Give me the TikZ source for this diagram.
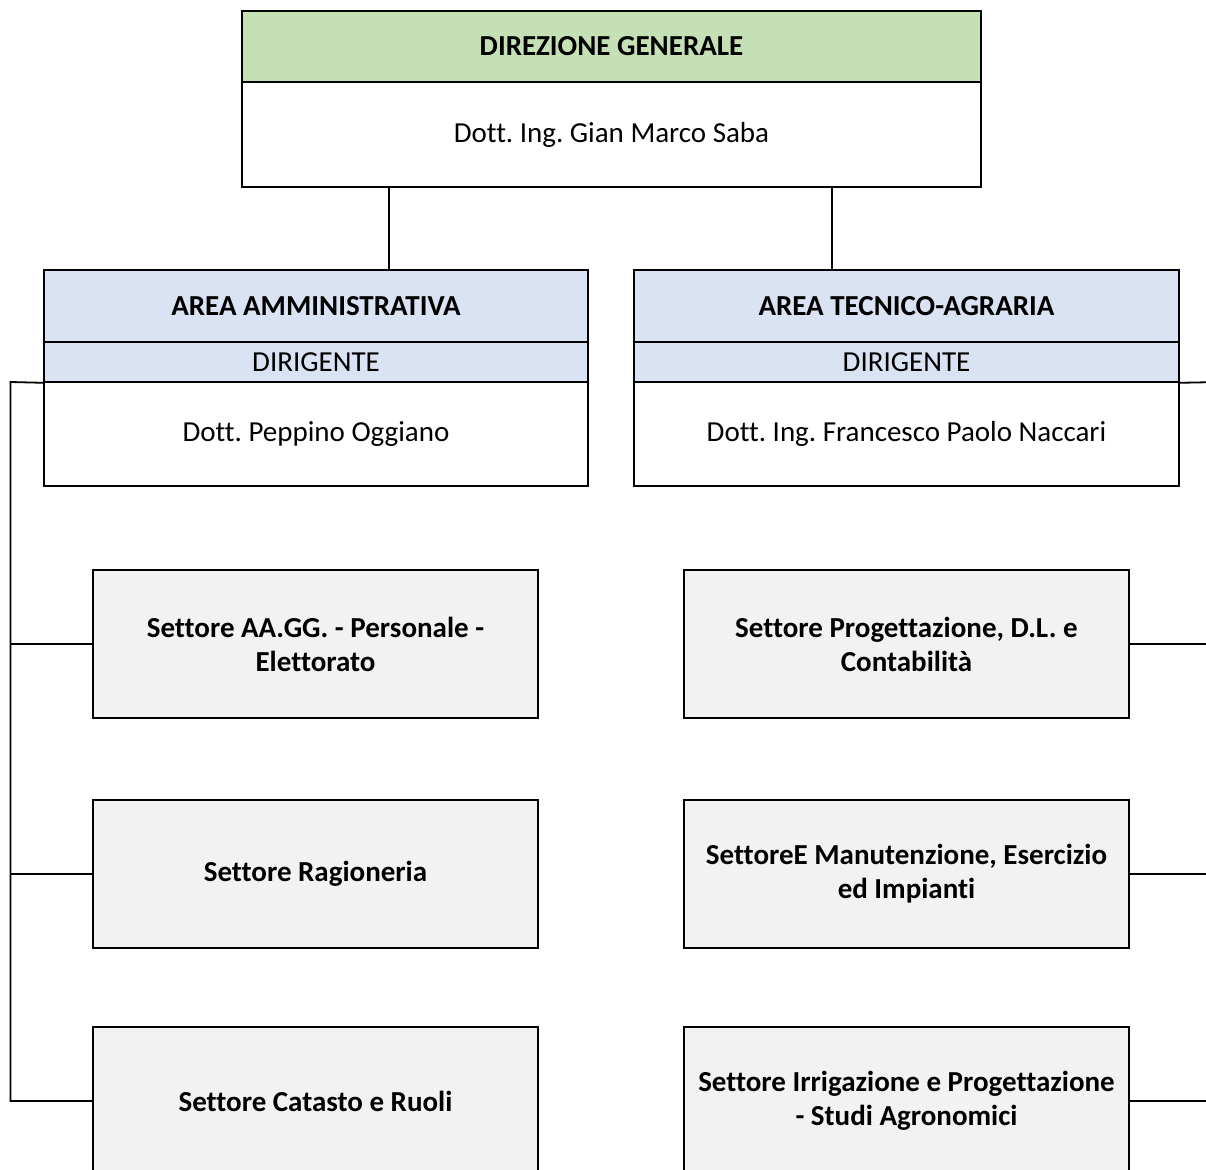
\documentclass[tikz,border=0pt]{standalone}
\usepackage{fontspec}
\setmainfont[Ligatures=NoCommon]{Carlito}
\begin{document}
\frenchspacing
\begin{tikzpicture}[x=1pt,y=-1pt,
  box/.style={draw=black,line width=1.6pt,inner sep=0pt,anchor=center,align=center,font=\fontsize{29}{34}\selectfont},
  topbox/.style={box,line width=2pt},
  sector/.style={box,fill=grayfill,minimum width=445pt,minimum height=148pt,font=\fontsize{29}{34}\selectfont\bfseries},
  link/.style={draw=black,line width=1.8pt}]
\definecolor{greenhd}{HTML}{C5E0B4}
\definecolor{bluefill}{HTML}{DAE3F3}
\definecolor{grayfill}{HTML}{F2F2F2}
\useasboundingbox (0,0) rectangle (1206,1169);
\clip (0,0) rectangle (1206,1169);
\fill[white] (0,0) rectangle (1206,1169);
% top
\node[topbox,fill=white,minimum width=739pt,minimum height=105pt] (dgb) at (611.5,134.5) {Dott. Ing. Gian Marco Saba};
\node[topbox,fill=greenhd,minimum width=739pt,minimum height=71pt,font=\fontsize{29}{34}\selectfont\bfseries] (dgh) at (611.5,46.5) {DIREZIONE GENERALE};
% areas
\node[box,fill=white,minimum width=544pt,minimum height=104pt] (aab) at (316,434) {Dott. Peppino Oggiano};
\node[box,fill=bluefill,minimum width=544pt,minimum height=40pt] (aad) at (316,362) {DIRIGENTE};
\node[box,fill=bluefill,minimum width=544pt,minimum height=72pt,font=\fontsize{29}{34}\selectfont\bfseries] (aah) at (316,306) {AREA AMMINISTRATIVA};
\node[box,fill=white,minimum width=545pt,minimum height=104pt] (atb) at (906.5,434) {Dott. Ing. Francesco Paolo Naccari};
\node[box,fill=bluefill,minimum width=545pt,minimum height=40pt] (atd) at (906.5,362) {DIRIGENTE};
\node[box,fill=bluefill,minimum width=545pt,minimum height=72pt,font=\fontsize{29}{34}\selectfont\bfseries] (ath) at (906.5,306) {AREA TECNICO-AGRARIA};
% sectors
\node[sector] (s1) at (315.5,644) {Settore AA.GG. - Personale -\\Elettorato};
\node[sector] (s2) at (315.5,874) {Settore Ragioneria};
\node[sector] (s3) at (315.5,1101) {Settore Catasto e Ruoli};
\node[sector] (s4) at (906.5,644) {Settore Progettazione, D.L. e\\Contabilità};
\node[sector] (s5) at (906.5,874) {SettoreE Manutenzione, Esercizio\\ed Impianti};
\node[sector] (s6) at (906.5,1101) {Settore Irrigazione e Progettazione\\- Studi Agronomici};
% connectors
\coordinate (c1) at (389,187);
\coordinate (c2) at (832,187);
\draw[link] (c1) -- (c1 |- aah.north);
\draw[link] (c2) -- (c2 |- ath.north);
\coordinate (busL) at (10.5,382);
\coordinate (busR) at (1220,382);
\draw[link] (aad.south west) -- (busL) |- (s3.west);
\draw[link] (busL) |- (s1.west);
\draw[link] (busL) |- (s2.west);
\draw[link] (atd.south east) -- (busR);
\draw[link] (s4.east) -- (s4.east -| busR);
\draw[link] (s5.east) -- (s5.east -| busR);
\draw[link] (s6.east) -- (s6.east -| busR);
\end{tikzpicture}
\end{document}
